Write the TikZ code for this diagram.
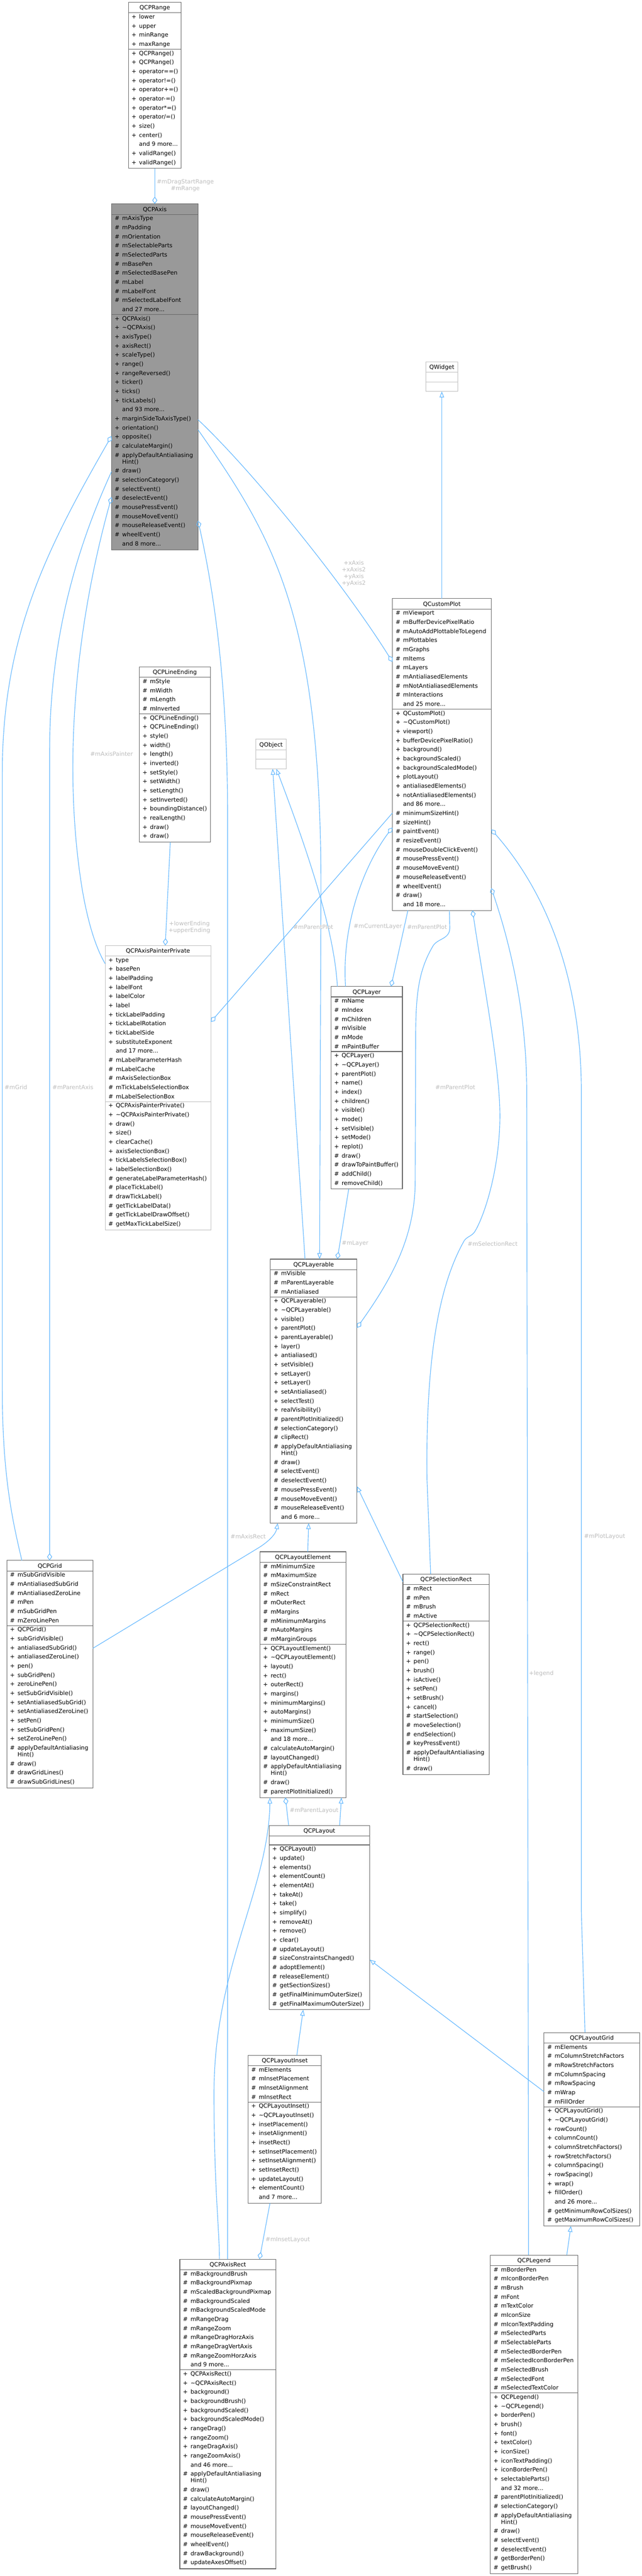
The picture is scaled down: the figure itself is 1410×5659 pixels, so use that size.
\documentclass[tikz,border=0pt]{standalone}
\usepackage{fontspec}
\setmainfont{DejaVu Sans}
\usetikzlibrary{arrows.meta,calc}
\definecolor{bdoc}{HTML}{666666}
\definecolor{bext}{HTML}{BFBFBF}
\definecolor{froot}{HTML}{999999}
\definecolor{edgec}{HTML}{63B8FF}
\definecolor{labc}{HTML}{BEBEBE}
\newcommand\tdots{...}
\tikzset{
  rowtxt/.style={anchor=base west, inner sep=0pt, outer sep=0pt, text=black, font=\fontsize{12.7}{15}\selectfont},
  boxdoc/.style={draw=bdoc, fill=white, line width=1.3pt, inner sep=0pt, outer sep=0pt},
  boxext/.style={draw=bext, fill=white, line width=1.3pt, inner sep=0pt, outer sep=0pt},
  boxroot/.style={draw=bdoc, fill=froot, line width=1.3pt, inner sep=0pt, outer sep=0pt},
  sepdoc/.style={draw=bdoc, line width=1.3pt},
  sepext/.style={draw=bext, line width=1.3pt},
  seproot/.style={draw=bdoc, line width=1.3pt},
  edgeline/.style={draw=edgec, line width=1.3pt},
  agg/.style={edgeline, -{Diamond[open, length=16pt, width=11pt]}},
  inh/.style={edgeline, -{Triangle[open, length=13pt, width=10pt]}},
  elabel/.style={text=labc, font=\fontsize{12.7}{14.7}\selectfont, align=center, inner sep=0pt}
}
% box frame: name, x, ytop, width, ysep, ybottom, kind, title
\newcommand\clsframe[8]{%
  \node[box#7, minimum width=#4pt, minimum height={(#6-#3)*1pt}, anchor=north west] (#1) at (#2,#3) {};
  \draw[sep#7] ({#2},{#3+23}) -- ++(#4,0);
  \draw[sep#7] ({#2},{#5}) -- ++(#4,0);
  \node[rowtxt, anchor=base] at ({#2+#4/2},{#3+16.3}) {#8};
}
% rows: x, section top, list of sym/text
\newcommand\rows[3]{%
  \pgfmathsetmacro\rowcur{#2+8.7-20}%
  \global\let\rowcur\rowcur
  \foreach \symb/\txt in {#3}{%
    \if c\symb\pgfmathsetmacro\tmpy{\rowcur+14.7}\else\pgfmathsetmacro\tmpy{\rowcur+20}\fi
    \global\let\rowcur\tmpy
    \node[rowtxt] at ({#1+23.5},{\rowcur+4.5}) {\txt};
    \if h\symb\node[rowtxt] at ({#1+7},{\rowcur+4.5}) {\#};\fi
    \if p\symb\node[rowtxt] at ({#1+7},{\rowcur+4.5}) {+};\fi
  }}
\begin{document}
\begin{tikzpicture}[x=1pt,y=-1pt]
\fill[white] (0,0) rectangle (1410,5659);
\useasboundingbox (0,0) rectangle (1410,5659);

% ---------- QCPRange
\clsframe{qcprange}{282}{5}{116}{108}{370}{doc}{QCPRange}
\rows{282}{28}{p/lower,p/upper,p/minRange,p/maxRange}
\rows{282}{108}{p/QCPRange(),p/QCPRange(),p/operator==(),p/operator!=(),p/operator+=(),p/operator-=(),p/operator*=(),p/{operator/=()},p/size(),p/center(),n/and 9 more\tdots,p/validRange(),p/validRange()}

% ---------- QCPAxis
\clsframe{qcpaxis}{245}{448}{190}{691}{1208}{root}{QCPAxis}
\rows{245}{471}{h/mAxisType,h/mPadding,h/mOrientation,h/mSelectableParts,h/mSelectedParts,h/mBasePen,h/mSelectedBasePen,h/mLabel,h/mLabelFont,h/mSelectedLabelFont,n/and 27 more\tdots}
\rows{245}{691}{p/QCPAxis(),p/\textasciitilde QCPAxis(),p/axisType(),p/axisRect(),p/scaleType(),p/range(),p/rangeReversed(),p/ticker(),p/ticks(),p/tickLabels(),n/and 93 more\tdots,p/marginSideToAxisType(),p/orientation(),p/opposite(),h/calculateMargin(),h/applyDefaultAntialiasing,c/Hint(),h/draw(),h/selectionCategory(),h/selectEvent(),h/deselectEvent(),h/mousePressEvent(),h/mouseMoveEvent(),h/mouseReleaseEvent(),h/wheelEvent(),n/and 8 more\tdots}

% ---------- QWidget
\clsframe{qwidget}{935}{795}{71}{839}{860}{ext}{QWidget}

% ---------- QCustomPlot
\clsframe{qcustomplot}{862}{1315}{217}{1558}{2000}{doc}{QCustomPlot}
\rows{862}{1338}{h/mViewport,h/mBufferDevicePixelRatio,h/mAutoAddPlottableToLegend,h/mPlottables,h/mGraphs,h/mItems,h/mLayers,h/mAntialiasedElements,h/mNotAntialiasedElements,h/mInteractions,n/and 25 more\tdots}
\rows{862}{1558}{p/QCustomPlot(),p/\textasciitilde QCustomPlot(),p/viewport(),p/bufferDevicePixelRatio(),p/background(),p/backgroundScaled(),p/backgroundScaledMode(),p/plotLayout(),p/antialiasedElements(),p/notAntialiasedElements(),n/and 86 more\tdots,h/minimumSizeHint(),h/sizeHint(),h/paintEvent(),h/resizeEvent(),h/mouseDoubleClickEvent(),h/mousePressEvent(),h/mouseMoveEvent(),h/mouseReleaseEvent(),h/wheelEvent(),h/draw(),n/and 18 more\tdots}

% ---------- QCPLineEnding
\clsframe{qcplineending}{306}{1465}{156}{1568}{1850}{doc}{QCPLineEnding}
\rows{306}{1488}{h/mStyle,h/mWidth,h/mLength,h/mInverted}
\rows{306}{1568}{p/QCPLineEnding(),p/QCPLineEnding(),p/style(),p/width(),p/length(),p/inverted(),p/setStyle(),p/setWidth(),p/setLength(),p/setInverted(),p/boundingDistance(),p/realLength(),p/draw(),p/draw()}

% ---------- QObject
\clsframe{qobject}{562}{1624}{67}{1668}{1689}{ext}{QObject}

% ---------- QCPAxisPainterPrivate
\clsframe{qcpaxispainter}{231}{2077}{232}{2420}{2702}{ext}{QCPAxisPainterPrivate}
\rows{231}{2100}{p/type,p/basePen,p/labelPadding,p/labelFont,p/labelColor,p/label,p/tickLabelPadding,p/tickLabelRotation,p/tickLabelSide,p/substituteExponent,n/and 17 more\tdots,h/mLabelParameterHash,h/mLabelCache,h/mAxisSelectionBox,h/mTickLabelsSelectionBox,h/mLabelSelectionBox}
\rows{231}{2420}{p/QCPAxisPainterPrivate(),p/\textasciitilde QCPAxisPainterPrivate(),p/draw(),p/size(),p/clearCache(),p/axisSelectionBox(),p/tickLabelsSelectionBox(),p/labelSelectionBox(),h/generateLabelParameterHash(),h/placeTickLabel(),h/drawTickLabel(),h/getTickLabelData(),h/getTickLabelDrawOffset(),h/getMaxTickLabelSize()}

% ---------- QCPLayer
\clsframe{qcplayer}{727}{2167}{157}{2310}{2612}{doc}{QCPLayer}
\rows{727}{2190}{h/mName,h/mIndex,h/mChildren,h/mVisible,h/mMode,h/mPaintBuffer}
\rows{727}{2310}{p/QCPLayer(),p/\textasciitilde QCPLayer(),p/parentPlot(),p/name(),p/index(),p/children(),p/visible(),p/mode(),p/setVisible(),p/setMode(),p/replot(),h/draw(),h/drawToPaintBuffer(),h/addChild(),h/removeChild()}

% ---------- QCPLayerable
\clsframe{qcplayerable}{594}{2766}{190}{2849}{3346}{doc}{QCPLayerable}
\rows{594}{2789}{h/mVisible,h/mParentLayerable,h/mAntialiased}
\rows{594}{2849}{p/QCPLayerable(),p/\textasciitilde QCPLayerable(),p/visible(),p/parentPlot(),p/parentLayerable(),p/layer(),p/antialiased(),p/setVisible(),p/setLayer(),p/setLayer(),p/setAntialiased(),p/selectTest(),p/realVisibility(),h/parentPlotInitialized(),h/selectionCategory(),h/clipRect(),h/applyDefaultAntialiasing,c/Hint(),h/draw(),h/selectEvent(),h/deselectEvent(),h/mousePressEvent(),h/mouseMoveEvent(),h/mouseReleaseEvent(),n/and 6 more\tdots}

% ---------- QCPGrid
\clsframe{qcpgrid}{15}{3428}{189}{3571}{3928}{doc}{QCPGrid}
\rows{15}{3451}{h/mSubGridVisible,h/mAntialiasedSubGrid,h/mAntialiasedZeroLine,h/mPen,h/mSubGridPen,h/mZeroLinePen}
\rows{15}{3571}{p/QCPGrid(),p/subGridVisible(),p/antialiasedSubGrid(),p/antialiasedZeroLine(),p/pen(),p/subGridPen(),p/zeroLinePen(),p/setSubGridVisible(),p/setAntialiasedSubGrid(),p/setAntialiasedZeroLine(),p/setPen(),p/setSubGridPen(),p/setZeroLinePen(),h/applyDefaultAntialiasing,c/Hint(),h/draw(),h/drawGridLines(),h/drawSubGridLines()}

% ---------- QCPLayoutElement
\clsframe{qcplayoutelement}{571}{3409}{189}{3612}{3949}{doc}{QCPLayoutElement}
\rows{571}{3432}{h/mMinimumSize,h/mMaximumSize,h/mSizeConstraintRect,h/mRect,h/mOuterRect,h/mMargins,h/mMinimumMargins,h/mAutoMargins,h/mMarginGroups}
\rows{571}{3612}{p/QCPLayoutElement(),p/\textasciitilde QCPLayoutElement(),p/layout(),p/rect(),p/outerRect(),p/margins(),p/minimumMargins(),p/autoMargins(),p/minimumSize(),p/maximumSize(),n/and 18 more\tdots,h/calculateAutoMargin(),h/layoutChanged(),h/applyDefaultAntialiasing,c/Hint(),h/draw(),h/parentPlotInitialized()}

% ---------- QCPSelectionRect
\clsframe{qcpselrect}{885}{3458}{190}{3561}{3898}{doc}{QCPSelectionRect}
\rows{885}{3481}{h/mRect,h/mPen,h/mBrush,h/mActive}
\rows{885}{3561}{p/QCPSelectionRect(),p/\textasciitilde QCPSelectionRect(),p/rect(),p/range(),p/pen(),p/brush(),p/isActive(),p/setPen(),p/setBrush(),p/cancel(),h/startSelection(),h/moveSelection(),h/endSelection(),h/keyPressEvent(),h/applyDefaultAntialiasing,c/Hint(),h/draw()}

% ---------- QCPLayout
\clsframe{qcplayout}{591}{4010}{221}{4053}{4415}{doc}{QCPLayout}
\rows{591}{4053}{p/QCPLayout(),p/update(),p/elements(),p/elementCount(),p/elementAt(),p/takeAt(),p/take(),p/simplify(),p/removeAt(),p/remove(),p/clear(),h/updateLayout(),h/sizeConstraintsChanged(),h/adoptElement(),h/releaseElement(),h/getSectionSizes(),h/getFinalMinimumOuterSize(),h/getFinalMaximumOuterSize()}

% ---------- QCPLayoutInset
\clsframe{qcplayoutinset}{545}{4515}{161}{4618}{4840}{doc}{QCPLayoutInset}
\rows{545}{4538}{h/mElements,h/mInsetPlacement,h/mInsetAlignment,h/mInsetRect}
\rows{545}{4618}{p/QCPLayoutInset(),p/\textasciitilde QCPLayoutInset(),p/insetPlacement(),p/insetAlignment(),p/insetRect(),p/setInsetPlacement(),p/setInsetAlignment(),p/setInsetRect(),p/updateLayout(),p/elementCount(),n/and 7 more\tdots}

% ---------- QCPLayoutGrid
\clsframe{qcplayoutgrid}{1195}{4465}{210}{4628}{4890}{doc}{QCPLayoutGrid}
\rows{1195}{4488}{h/mElements,h/mColumnStretchFactors,h/mRowStretchFactors,h/mColumnSpacing,h/mRowSpacing,h/mWrap,h/mFillOrder}
\rows{1195}{4628}{p/QCPLayoutGrid(),p/\textasciitilde QCPLayoutGrid(),p/rowCount(),p/columnCount(),p/columnStretchFactors(),p/rowStretchFactors(),p/columnSpacing(),p/rowSpacing(),p/wrap(),p/fillOrder(),n/and 26 more\tdots,h/getMinimumRowColSizes(),h/getMaximumRowColSizes()}

% ---------- QCPAxisRect
\clsframe{qcpaxisrect}{395}{4963}{211}{5206}{5643}{doc}{QCPAxisRect}
\rows{395}{4986}{h/mBackgroundBrush,h/mBackgroundPixmap,h/mScaledBackgroundPixmap,h/mBackgroundScaled,h/mBackgroundScaledMode,h/mRangeDrag,h/mRangeZoom,h/mRangeDragHorzAxis,h/mRangeDragVertAxis,h/mRangeZoomHorzAxis,n/and 9 more\tdots}
\rows{395}{5206}{p/QCPAxisRect(),p/\textasciitilde QCPAxisRect(),p/background(),p/backgroundBrush(),p/backgroundScaled(),p/backgroundScaledMode(),p/rangeDrag(),p/rangeZoom(),p/rangeDragAxis(),p/rangeZoomAxis(),n/and 46 more\tdots,h/applyDefaultAntialiasing,c/Hint(),h/draw(),h/calculateAutoMargin(),h/layoutChanged(),h/mousePressEvent(),h/mouseMoveEvent(),h/mouseReleaseEvent(),h/wheelEvent(),h/drawBackground(),h/updateAxesOffset()}

% ---------- QCPLegend
\clsframe{qcplegend}{1077}{4954}{192}{5257}{5654}{doc}{QCPLegend}
\rows{1077}{4977}{h/mBorderPen,h/mIconBorderPen,h/mBrush,h/mFont,h/mTextColor,h/mIconSize,h/mIconTextPadding,h/mSelectedParts,h/mSelectableParts,h/mSelectedBorderPen,h/mSelectedIconBorderPen,h/mSelectedBrush,h/mSelectedFont,h/mSelectedTextColor}
\rows{1077}{5257}{p/QCPLegend(),p/\textasciitilde QCPLegend(),p/borderPen(),p/brush(),p/font(),p/textColor(),p/iconSize(),p/iconTextPadding(),p/iconBorderPen(),p/selectableParts(),n/and 32 more\tdots,h/parentPlotInitialized(),h/selectionCategory(),h/applyDefaultAntialiasing,c/Hint(),h/draw(),h/selectEvent(),h/deselectEvent(),h/getBorderPen(),h/getBrush()}

% ================= connectors
\draw[agg] (qcprange.south) -- (qcpaxis.north);
\node[elabel] (lab1) at (407,408) {\#mDragStartRange\\\#mRange};

\draw[inh] (qcustomplot.north) -- (qwidget.south);

\draw[agg] ([yshift=-474pt]qcpaxis.north east) .. controls (560,1040) and (760,1290) .. ([yshift=-139pt]qcustomplot.north west);
\node[elabel] (lab2) at (777,1260) {+xAxis\\+xAxis2\\+yAxis\\+yAxis2};

\draw[inh] ([yshift=-496pt]qcpaxis.north east) .. controls (600,1180) and (705,1350) .. (705,1950) -- ([xshift=108pt]qcplayerable.north west);

\draw[agg] ([xshift=33pt]qcpgrid.north west) .. controls (30,3350) and (5,3250) .. (5,3050) -- (5,1700) .. controls (5,1400) and (100,1210) .. ([yshift=-510pt]qcpaxis.north west);
\node[elabel] (lab3) at (35,2388) {\#mGrid};

\draw[agg] ([yshift=-588pt]qcpaxis.north west) .. controls (170,1200) and (109,1400) .. (109,1650) -- ([xshift=94pt]qcpgrid.north west);
\node[elabel] (lab4) at (160,2388) {\#mParentAxis};

\draw[agg] ([yshift=-40pt]qcpaxispainter.north west) .. controls (215,2090) and (195,2040) .. (180,1950) .. controls (140,1700) and (160,1400) .. ([yshift=-644pt]qcpaxis.north west);
\node[elabel] (lab5) at (245,1656) {\#mAxisPainter};

\draw[agg] ([xshift=105pt]qcpaxisrect.north west) -- (500,1800) .. controls (500,1500) and (470,1300) .. ([yshift=-696pt]qcpaxis.north east);
\node[elabel] (lab6) at (545,3375) {\#mAxisRect};

\draw[agg] ([xshift=68pt]qcplineending.south west) -- ([xshift=132pt]qcpaxispainter.north west);
\node[elabel] (lab7) at (416,2037) {+lowerEnding\\+upperEnding};

\draw[inh] ([xshift=76pt]qcplayerable.north west) -- ([xshift=37pt]qobject.south west);
\draw[inh] ([xshift=14pt]qcplayer.north west) .. controls (735,2050) and (680,1880) .. ([xshift=45pt]qobject.south west);

\draw[agg] ([yshift=-471pt]qcustomplot.north west) -- ([yshift=-168pt]qcpaxispainter.north east);
\node[elabel] (lab8) at (688,2036) {\#mParentPlot};

\draw[agg] ([xshift=32pt]qcplayer.north west) .. controls (750,2030) and (800,1900) .. ([yshift=-503pt]qcustomplot.north west);
\node[elabel] (lab9) at (830,2036) {\#mCurrentLayer};

\draw[agg] ([xshift=34pt]qcustomplot.south west) -- ([xshift=132pt]qcplayer.north west);
\node[elabel] (lab10) at (938,2036) {\#mParentPlot};

\draw[agg] ([xshift=125pt]qcustomplot.south west) -- (988,2035) .. controls (990,2065) and (960,2060) .. (950,2080) .. controls (915,2140) and (913,2200) .. (913,2300) -- (912,2600) .. controls (910,2720) and (860,2810) .. ([yshift=-151pt]qcplayerable.north east);
\node[elabel] (lab11) at (1000,2388) {\#mParentPlot};

\draw[agg] ([xshift=61pt]qcpselrect.north west) -- (938,3250) .. controls (935,3000) and (960,2830) .. (1020,2725) .. controls (1027,2716) and (1035,2716) .. (1042,2707) .. controls (1060,2680) and (1096,2580) .. (1098,2460) .. controls (1100,2350) and (1060,2150) .. ([xshift=176pt]qcustomplot.south west);
\node[elabel] (lab12) at (1082,2732) {\#mSelectionRect};

\draw[agg] ([xshift=84pt]qcplegend.north west) -- (1157,2400) .. controls (1157,2250) and (1130,2100) .. ([yshift=-636pt]qcustomplot.north east);
\node[elabel] (lab13) at (1189,3676) {+legend};

\draw[agg] ([xshift=90pt]qcplayoutgrid.north west) -- (1277,4200) -- (1277,2400) .. controls (1277,2150) and (1200,1960) .. ([yshift=-507pt]qcustomplot.north east);
\node[elabel] (lab14) at (1328,3375) {\#mPlotLayout};

\draw[agg] ([xshift=39pt]qcplayer.south west) -- ([xshift=147pt]qcplayerable.north west);
\node[elabel] (lab15) at (780,2732) {\#mLayer};

\draw[inh] ([yshift=-17pt]qcpselrect.north west) -- ([yshift=-499pt]qcplayerable.north east);

\draw[inh] ([yshift=-193pt]qcpgrid.north east) -- (565,3402) .. controls (590,3387) and (606,3370) .. ([xshift=16pt]qcplayerable.south west);

\draw[inh] ([xshift=105pt]qcplayoutelement.north west) -- ([xshift=84pt]qcplayerable.south west);

\draw[inh] ([xshift=87pt]qcpaxisrect.north west) .. controls (482,4900) and (470,4800) .. (470,4600) .. controls (470,4320) and (590,4150) .. ([xshift=22pt]qcplayoutelement.south west);

\draw[agg] ([xshift=43pt]qcplayout.north west) -- ([xshift=56pt]qcplayoutelement.south west);
\node[elabel] (lab16) at (690,3978) {\#mParentLayout};

\draw[inh] ([xshift=155pt]qcplayout.north west) -- ([xshift=179pt]qcplayoutelement.south west);

\draw[inh] ([xshift=107pt]qcplayoutinset.north west) -- ([xshift=75pt]qcplayout.south west);

\draw[inh] ([yshift=-130pt]qcplayoutgrid.north west) -- ([yshift=-295pt]qcplayout.north east);

\draw[agg] ([xshift=48pt]qcplayoutinset.south west) -- ([xshift=175pt]qcpaxisrect.north west);
\node[elabel] (lab17) at (632,4920) {\#mInsetLayout};

\draw[inh] ([xshift=168pt]qcplegend.north west) -- ([xshift=59pt]qcplayoutgrid.south west);
\end{tikzpicture}
\end{document}
